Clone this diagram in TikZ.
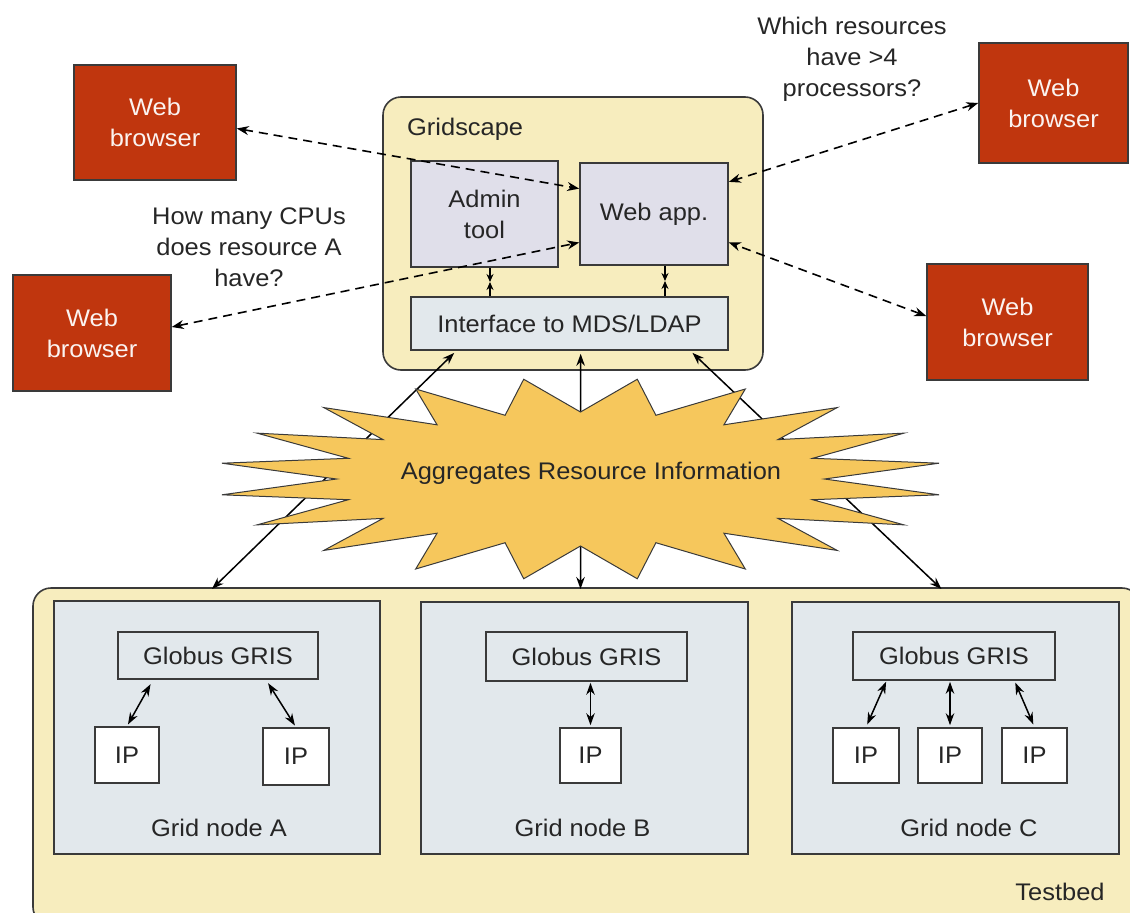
\documentclass[tikz,border=0pt]{standalone}
\usepackage{fontspec}
\setmainfont[FakeStretch=1.06]{Liberation Sans}
\usetikzlibrary{arrows.meta,calc}

\definecolor{ink}{RGB}{38,38,38}
\definecolor{edge}{RGB}{58,58,58}
\definecolor{panel}{RGB}{247,237,190}
\definecolor{lilac}{RGB}{224,223,234}
\definecolor{mist}{RGB}{226,232,236}
\definecolor{brick}{RGB}{192,54,14}
\definecolor{burst}{RGB}{246,199,92}

\begin{document}
\begin{tikzpicture}[x=1pt,y=-1pt,
  font=\fontsize{24}{31}\selectfont,
  every node/.style={align=center,inner sep=0pt,text=ink},
  browser/.style 2 args={draw=edge,line width=1.5pt,fill=brick,text=white!94!brick,minimum width=#1,minimum height=#2},
  holder/.style 2 args={draw=edge,line width=1.6pt,fill=panel,rounded corners=18pt,minimum width=#1,minimum height=#2},
  part/.style 2 args={draw=edge,line width=1.6pt,minimum width=#1,minimum height=#2},
  dashlink/.style={{Stealth[length=12pt,width=9pt]}-{Stealth[length=12pt,width=9pt]},dash pattern=on 9pt off 6pt,line width=1.6pt},
  link/.style={{Stealth[length=12pt,width=8.5pt]}-{Stealth[length=12pt,width=8.5pt]},line width=1.5pt},
  pinch/.style={-{Stealth[length=8pt,width=7pt]},line width=1.5pt}]
\useasboundingbox (0,0) rectangle (1130,913);
\clip (0,0) rectangle (1130,913);

% Gridscape
\node[holder={380}{273}] (gridscape) at (573,233.5) {};
\node[anchor=base west] (gslabel) at (407,135) {Gridscape};
\node[part={147}{106},fill=lilac] (admin) at (484.5,214) {Admin\\tool};
\node[part={148}{102},fill=lilac] (webapp) at (654,214) {Web app.};
\node[part={317}{53},fill=mist] (iface) at (569.5,323.5) {Interface to MDS/LDAP};

\coordinate (pa) at ($(admin.south)+(5.5,0)$);
\coordinate (pb) at (pa |- iface.north);
\draw[pinch] (pa) -- ($(pa)!0.5!(pb)$);
\draw[pinch] (pb) -- ($(pa)!0.5!(pb)$);
\coordinate (pc) at ($(webapp.south)+(11,0)$);
\coordinate (pd) at (pc |- iface.north);
\draw[pinch] (pc) -- ($(pc)!0.5!(pd)$);
\draw[pinch] (pd) -- ($(pc)!0.5!(pd)$);

% Testbed
\node[holder={1107}{337}] (testbed) at (586.5,756.5) {};
\node (tblabel) at (1060,892) {Testbed};

\node[part={326}{253},fill=mist] (gnA) at (217,727.5) {};
\node[part={327}{252},fill=mist] (gnB) at (584.5,728) {};
\node[part={327}{252},fill=mist] (gnC) at (955.5,728) {};
\node (lblA) at (219,828) {Grid node A};
\node (lblB) at (582.5,828) {Grid node B};
\node (lblC) at (969,828) {Grid node C};

\node[part={200}{47},fill=mist] (grA) at (218,655.5) {Globus GRIS};
\node[part={201}{49},fill=mist] (grB) at (586.5,656.5) {Globus GRIS};
\node[part={202}{48},fill=mist] (grC) at (954,656) {Globus GRIS};

\node[part={64}{56},fill=white] (ipA1) at (127,755) {IP};
\node[part={66}{57},fill=white] (ipA2) at (296,756.5) {IP};
\node[part={61}{55},fill=white] (ipB) at (590.5,755.5) {IP};
\node[part={66}{55},fill=white] (ipC1) at (866,755.5) {IP};
\node[part={64}{55},fill=white] (ipC2) at (950,755.5) {IP};
\node[part={65}{55},fill=white] (ipC3) at (1034.5,755.5) {IP};

\draw[link,shorten <=5pt,shorten >=2pt] ($(grA.south)+(-65,0)$) -- (ipA1.north);
\draw[link,shorten <=4pt,shorten >=2pt] ($(grA.south)+(48,0)$) -- (ipA2.north);
\draw[link,shorten <=1pt,shorten >=2pt] (ipB.north |- grB.south) -- (ipB.north);
\draw[link,shorten <=1pt,shorten >=3pt] ($(grC.south)+(-67.5,0)$) -- (ipC1.north);
\draw[link,shorten <=1pt,shorten >=2pt] (ipC2.north |- grC.south) -- (ipC2.north);
\draw[link,shorten <=2pt,shorten >=3pt] ($(grC.south)+(60.5,0)$) -- (ipC3.north);

% links through the burst
\coordinate (ifA) at ($(iface.south west)!0.145!(iface.south east)$);
\coordinate (ifB) at ($(iface.south west)!0.535!(iface.south east)$);
\coordinate (ifC) at ($(iface.south west)!0.879!(iface.south east)$);
\coordinate (tbA) at (212,589);
\coordinate (tbB) at (580.5,589);
\coordinate (tbC) at (941.5,589);
\draw[link,shorten <=3pt] (ifA) -- (tbA);
\draw[link,shorten <=3pt] (ifB) -- (tbB);
\draw[link,shorten <=3pt] (ifC) -- (tbC);

\begin{scope}[shift={(580.5,479)}]
\filldraw[draw=edge,line width=1pt,fill=burst] (0:244 and 67)
  \foreach \i in {0,...,19} {-- (\i*18+9:363 and 101) -- (\i*18+18:244 and 67)} -- cycle;
\end{scope}
\node (agg) at (591,473) {Aggregates Resource Information};

% browsers
\node[browser={162}{115}] (wbA) at (155,122.5) {Web\\browser};
\node[browser={158}{116}] (wbB) at (92,333) {Web\\browser};
\node[browser={149}{120}] (wbC) at (1053.5,103) {Web\\browser};
\node[browser={161}{116}] (wbD) at (1007.5,322) {Web\\browser};

\node (askA) at (249,247) {How many CPUs\\does resource A\\have?};
\node (askC) at (852,59) {Which resources\\have >4\\processors?};

\draw[dashlink] ([yshift=-6pt]wbA.east) -- ($(webapp.north west)!0.255!(webapp.south west)$);
\draw[dashlink] ([yshift=6pt]wbB.east) -- ($(webapp.north west)!0.775!(webapp.south west)$);
\draw[dashlink] (wbC.west) -- ($(webapp.north east)!0.19!(webapp.south east)$);
\draw[dashlink] ([yshift=6pt]wbD.west) -- ($(webapp.north east)!0.775!(webapp.south east)$);
\end{tikzpicture}
\end{document}
